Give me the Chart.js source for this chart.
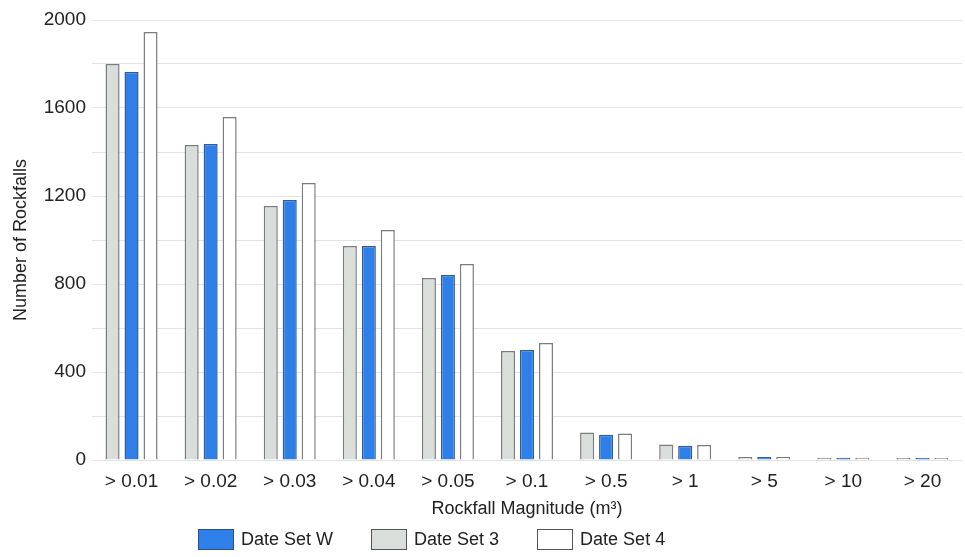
<!DOCTYPE html>
<html>
<head>
<meta charset="utf-8">
<script src="https://cdn.jsdelivr.net/npm/chart.js@4/dist/chart.umd.min.js"></script>
<style>
    html, body { margin: 0; padding: 0; background: #fff; }
    #wrap { position: relative; width: 965px; height: 557px; }
    #leyenda {
        position: absolute; left: 198px; top: 529px;
        display: flex; font-family: "Liberation Sans", Arial, sans-serif; font-size: 18px; color: #222;
    }
    .item { display: flex; align-items: center; margin-right: 38px; }
    .caja { width: 36px; height: 21px; margin-right: 7px; box-sizing: border-box; }
</style>
</head>
<body>
<div id="wrap">
    <canvas id="grafico" width="965" height="557"></canvas>
    <div id="leyenda"></div>
</div>
<script>
// Datos
const categorias = ['> 0.01', '> 0.02', '> 0.03', '> 0.04', '> 0.05', '> 0.1', '> 0.5', '> 1', '> 5', '> 10', '> 20'];
const set3 = [1800, 1432, 1155, 973, 827, 495, 125, 70, 14, 10, 9];
const setW = [1764, 1436, 1182, 973, 841, 500, 115, 65, 14, 10, 9];
const set4 = [1945, 1559, 1259, 1045, 891, 532, 120, 68, 14, 10, 9];
const ticksY = [0, 400, 800, 1200, 1600, 2000];

const fuente = '"Liberation Sans", Arial, sans-serif';

// Leyenda en HTML (orden: W, 3, 4)
const itemsLeyenda = [
    { texto: 'Date Set W', fondo: '#2f7fe9', borde: '#2b4f80' },
    { texto: 'Date Set 3', fondo: '#d9dedb', borde: '#555' },
    { texto: 'Date Set 4', fondo: '#ffffff', borde: '#555' }
];
const leyenda = document.getElementById('leyenda');
itemsLeyenda.forEach(it => {
    const div = document.createElement('div');
    div.className = 'item';
    div.innerHTML = `<span class="caja" style="background:${it.fondo};border:1.5px solid ${it.borde}"></span>${it.texto}`;
    leyenda.appendChild(div);
});

new Chart(document.getElementById('grafico').getContext('2d'), {
    type: 'bar',
    data: {
        labels: categorias,
        datasets: [
            { label: 'Date Set 3', data: set3, backgroundColor: '#d9dedb', borderColor: '#7c7c7c', borderWidth: 1.5 },
            { label: 'Date Set W', data: setW, backgroundColor: '#2f7fe9', borderColor: '#2f5c9c', borderWidth: 1.5 },
            { label: 'Date Set 4', data: set4, backgroundColor: '#ffffff', borderColor: '#7c7c7c', borderWidth: 1.5 }
        ]
    },
    options: {
        responsive: false,
        animation: false,
        layout: { padding: { top: 20, right: 3, left: 0, bottom: 0 } },
        datasets: { bar: { categoryPercentage: 0.72, barPercentage: 0.74 } },
        plugins: {
            legend: { display: false },
            tooltip: { enabled: false }
        },
        scales: {
            x: {
                grid: { display: false },
                border: { display: false },
                ticks: { color: '#222', font: { family: fuente, size: 19 }, padding: 2, maxRotation: 0 },
                title: {
                    display: true,
                    text: 'Rockfall Magnitude (m³)',
                    color: '#222',
                    font: { family: fuente, size: 18 },
                    padding: { top: 0, bottom: 37 }
                },
                afterFit: (scale) => { scale.height = 97; }
            },
            y: {
                min: 0,
                max: 2000,
                grid: { color: '#e2e2e2', drawTicks: false, lineWidth: 1 },
                border: { display: false },
                ticks: {
                    stepSize: 200,
                    padding: 6,
                    color: '#222',
                    font: { family: fuente, size: 19 },
                    callback: (v) => ticksY.includes(v) ? v : ''
                },
                title: {
                    display: true,
                    text: 'Number of Rockfalls',
                    color: '#222',
                    font: { family: fuente, size: 18 },
                    padding: { top: 10, bottom: 0 }
                },
                afterFit: (scale) => { scale.width = 92; }
            }
        }
    }
});
</script>
</body>
</html>
